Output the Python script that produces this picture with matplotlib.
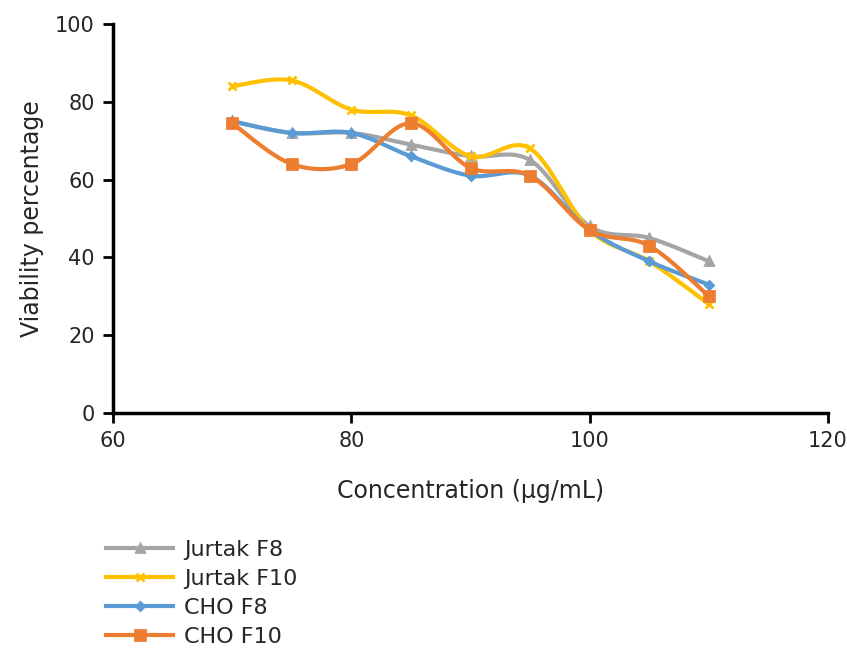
import numpy as np
import matplotlib.pyplot as plt

# concentrations (ug/mL) and viability (%)
conc = [70, 75, 80, 85, 90, 95, 100, 105, 110]
jurtak_f8 = [75, 72, 72, 69, 66, 65, 48, 45, 39]
jurtak_f10 = [84, 85.5, 78, 76.5, 66, 68, 47, 39, 28]
cho_f8 = [75, 72, 72, 66, 61, 61, 47, 39, 33]
cho_f10 = [74.5, 64, 64, 74.5, 63, 61, 47, 43, 30]


def smooth(x, y, n=30):
    # Excel-style smoothed line: cubic Bezier with Catmull-Rom control points
    p = np.column_stack([x, y]).astype(float)
    p = np.vstack([p[0], p, p[-1]])
    out = []
    t = np.linspace(0, 1, n)[:, None]
    for i in range(1, len(p) - 2):
        p0, p1, p2, p3 = p[i - 1], p[i], p[i + 1], p[i + 2]
        c1 = p1 + (p2 - p0) / 6
        c2 = p2 - (p3 - p1) / 6
        seg = ((1 - t) ** 3) * p1 + 3 * ((1 - t) ** 2) * t * c1 + 3 * (1 - t) * t ** 2 * c2 + t ** 3 * p2
        out.append(seg)
    s = np.vstack(out)
    return s[:, 0], s[:, 1]


series = [
    ('Jurtak F8', jurtak_f8, '#A5A5A5', '^', 6),
    ('Jurtak F10', jurtak_f10, '#FFC000', 'x', 6),
    ('CHO F8', cho_f8, '#5B9BD5', 'D', 4),
    ('CHO F10', cho_f10, '#ED7D31', 's', 7),
]

txt = '#262626'
fig = plt.figure(figsize=(8.47, 6.56), dpi=100)
ax = fig.add_axes([0.1334, 0.3704, 0.8442, 0.593])

handles = []
for name, vals, col, mk, ms in series:
    sx, sy = smooth(conc, vals)
    ax.plot(sx, sy, color=col, lw=3, solid_capstyle='round')
    ax.plot(conc, vals, linestyle='none', marker=mk, color=col, ms=ms, mew=2)
    h, = ax.plot([], [], color=col, lw=3, marker=mk, ms=ms, mew=2)
    handles.append(h)

ax.set_xlim(60, 120)
ax.set_ylim(0, 100)
ax.set_xticks([60, 80, 100, 120])
ax.set_yticks([0, 20, 40, 60, 80, 100])
for s in ['top', 'right']:
    ax.spines[s].set_visible(False)
for s in ['left', 'bottom']:
    ax.spines[s].set_linewidth(2.5)
ax.tick_params(width=2, length=7, labelsize=15, labelcolor=txt, pad=6)
ax.set_xlabel('Concentration (μg/mL)', fontsize=17, color=txt, labelpad=20)
ax.set_ylabel('Viability percentage', fontsize=17, color=txt, labelpad=8)

fig.legend(handles, [s[0] for s in series], loc='upper left',
           bbox_to_anchor=(0.115, 0.19), frameon=False, fontsize=16,
           handlelength=3.0, handletextpad=0.5, labelspacing=0.4,
           borderaxespad=0, labelcolor=txt)

fig.savefig('out.png', dpi=100)
